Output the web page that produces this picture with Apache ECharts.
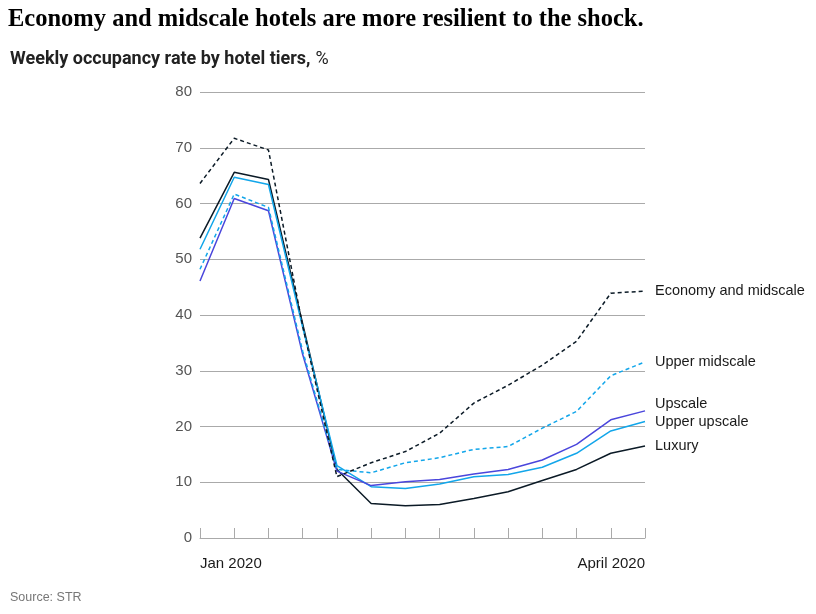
<!DOCTYPE html>
<html>
<head>
<meta charset="utf-8">
<script src="https://cdn.jsdelivr.net/npm/echarts@6/dist/echarts.min.js"></script>
<style>
html,body{margin:0;padding:0;background:#fff;}
#c{width:816px;height:614px;}
</style>
</head>
<body>
<div id="c"></div>
<script>
var weeks = ['Jan 2020','w2','w3','w4','w5','w6','w7','w8','w9','w10','w11','w12','w13','April 2020'];
var economyMidscale = [63.6, 71.7, 69.6, 38.0, 11.0, 13.5, 15.5, 18.8, 24.2, 27.4, 31.0, 35.3, 43.9, 44.3];
var upperMidscale   = [48.2, 61.7, 59.3, 33.5, 12.3, 11.7, 13.5, 14.4, 15.9, 16.4, 19.7, 22.7, 29.1, 31.6];
var upscale         = [46.1, 60.9, 58.7, 32.9, 12.0, 9.4, 10.1, 10.5, 11.5, 12.3, 14.0, 16.8, 21.2, 22.8];
var upperUpscale    = [51.8, 64.7, 63.4, 37.8, 13.0, 9.2, 8.9, 9.7, 11.0, 11.4, 12.7, 15.2, 19.2, 20.9];
var luxury          = [53.8, 65.6, 64.3, 38.4, 12.3, 6.2, 5.8, 6.0, 7.1, 8.3, 10.3, 12.3, 15.2, 16.5];
var yTicks = [0, 10, 20, 30, 40, 50, 60, 70, 80];

function mk(name, data, color, dashed, offY) {
  return {
    name: name, type: 'line', data: data, symbol: 'none', silent: true,
    lineStyle: { color: color, width: 1.5, type: dashed ? [4, 3] : 'solid' },
    endLabel: {
      show: true, formatter: name, color: '#1a1a1a', fontSize: 14.5,
      fontFamily: 'Liberation Sans, Arial, sans-serif', distance: 10,
      offset: [0, offY || 0]
    }
  };
}

var chart = echarts.init(document.getElementById('c'), null, { renderer: 'canvas' });
chart.setOption({
  animation: false,
  backgroundColor: '#fff',
  title: [
    { text: 'Economy and midscale hotels are more resilient to the shock.', left: 8, top: 7, padding: 0,
      textStyle: { fontFamily: 'Liberation Serif, serif', fontWeight: 'bold', fontSize: 24.5, color: '#000' } },
    { text: '{b|Weekly occupancy rate by hotel tiers,} {n|%}', left: 10, top: 50, padding: 0,
      textStyle: { rich: {
        b: { fontFamily: 'Roboto, sans-serif', fontWeight: 'bold', fontSize: 18, color: '#222' },
        n: { fontFamily: 'Roboto, sans-serif', fontWeight: 'normal', fontSize: 18, color: '#222' } } } },
    { text: 'Source: STR', left: 10, top: 591, padding: 0,
      textStyle: { fontFamily: 'Liberation Sans, Arial, sans-serif', fontWeight: 'normal', fontSize: 12.5, color: '#777' } }
  ],
  grid: { left: 200, right: 171, top: 92, bottom: 76, containLabel: false },
  xAxis: {
    type: 'category', data: weeks, boundaryGap: false,
    axisLine: { show: true, lineStyle: { color: '#aaa', width: 1 } },
    axisTick: { show: true, inside: true, length: 10, interval: 0, lineStyle: { color: '#aaa' } },
    axisLabel: {
      interval: 0, margin: 18, color: '#1a1a1a', fontSize: 15,
      fontFamily: 'Liberation Sans, Arial, sans-serif',
      alignMinLabel: 'left', alignMaxLabel: 'right',
      formatter: function (v, i) { return (i === 0 || i === weeks.length - 1) ? v : ''; }
    },
    splitLine: { show: false }
  },
  yAxis: {
    type: 'value', min: yTicks[0], max: yTicks[yTicks.length - 1], interval: 10,
    axisLine: { show: false }, axisTick: { show: false },
    axisLabel: { color: '#555', fontSize: 15, margin: 8, fontFamily: 'Liberation Sans, Arial, sans-serif' },
    splitLine: { lineStyle: { color: '#aaa', width: 1 } }
  },
  series: [
    mk('Luxury', luxury, '#0b1a26', false, 0),
    mk('Upper upscale', upperUpscale, '#12a6ea', false, 1),
    mk('Upscale', upscale, '#4a46dc', false, -7),
    mk('Upper midscale', upperMidscale, '#12a6ea', true, 0),
    mk('Economy and midscale', economyMidscale, '#0b1a26', true, 0)
  ]
});
</script>
</body>
</html>
